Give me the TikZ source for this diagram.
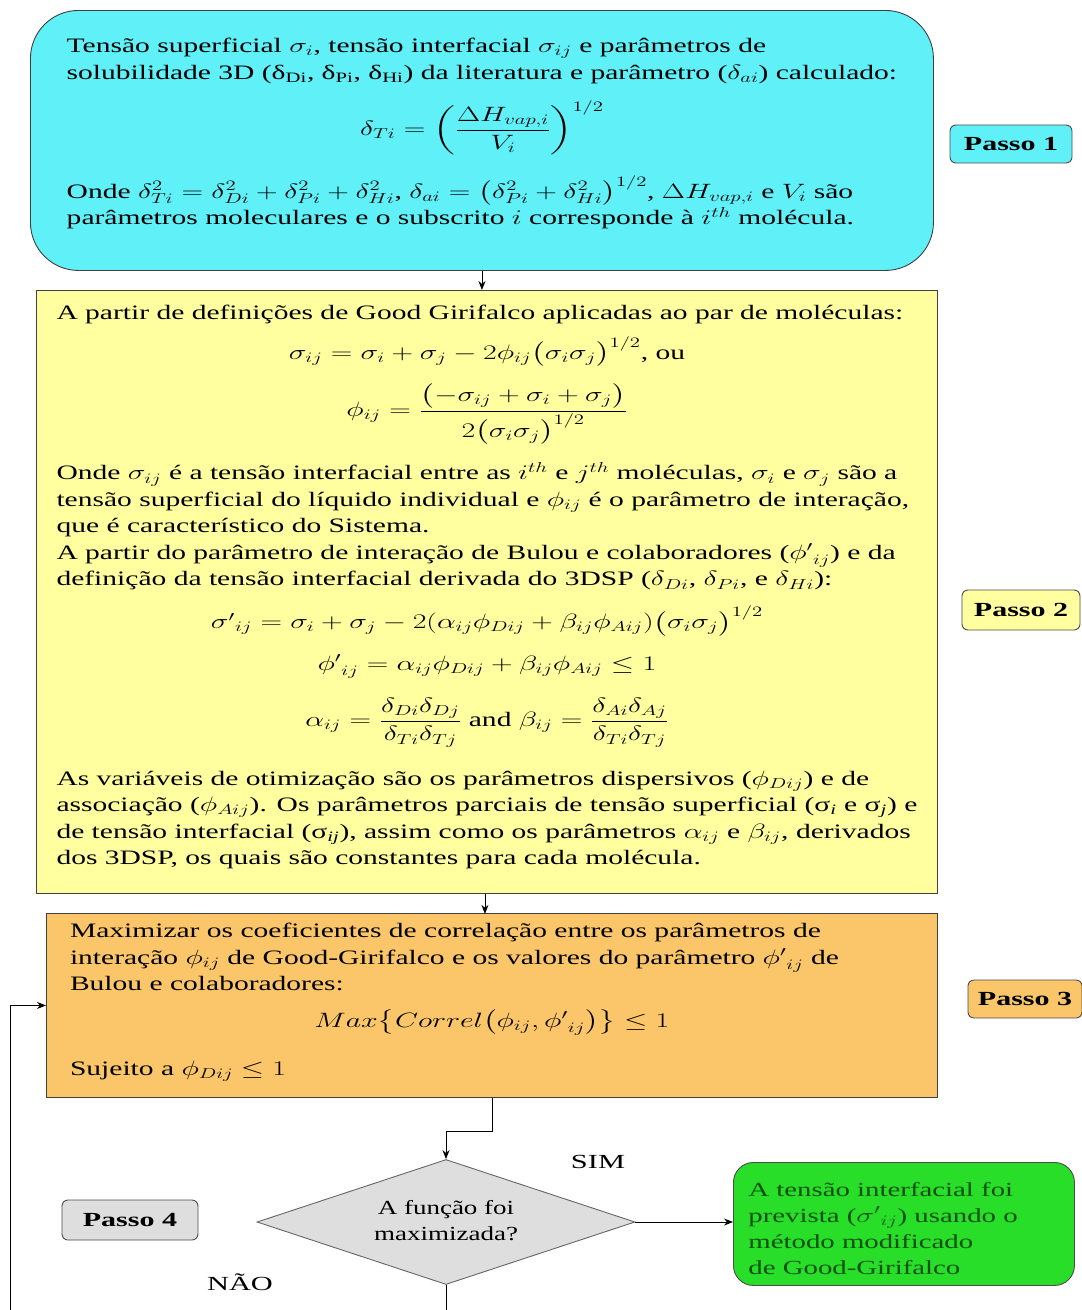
\documentclass[tikz,border=0pt]{standalone}
\usepackage{amsmath,amssymb}
\usepackage{graphicx}
\usepackage{fontspec}
\setmainfont{Liberation Serif}
\usetikzlibrary{shapes.geometric,positioning,arrows.meta}
\definecolor{caixaazul}{RGB}{95,240,248}
\definecolor{caixaamarela}{RGB}{255,255,160}
\definecolor{caixalaranja}{RGB}{250,198,105}
\definecolor{caixaverde}{RGB}{40,222,40}
\definecolor{caixacinza}{RGB}{222,222,222}
\definecolor{textoverde}{RGB}{10,80,10}
\newcommand{\largo}[2][1.44]{\scalebox{#1}[1]{#2}}

\begin{document}
\begin{tikzpicture}[x=1pt,y=-1pt,>={Stealth[length=9pt,width=7pt]},
  caixa/.style={draw=black!75,line width=0.9pt,anchor=north west,inner sep=0pt,
    font=\fontsize{20.5}{26.5}\selectfont},
  passo/.style={draw=black!70,line width=0.9pt,rounded corners=6pt,inner sep=0pt,
    font=\bfseries\fontsize{20}{22}\selectfont},
  rotulo/.style={font=\fontsize{20}{22}\selectfont},
  seta/.style={->,line width=0.8pt}]
\useasboundingbox (0,0) rectangle (1082,1310);
\fill[white] (0,0) rectangle (1082,1310);
\clip (0,0) rectangle (1082,1310);

% passo 1
\node[caixa,fill=caixaazul,rounded corners=48pt,minimum width=903pt,minimum height=260pt]
  (entrada) at (30,10) {\largo{\begin{tabular}{@{}l@{}}
Tensão superficial $\sigma_i$, tensão interfacial $\sigma_{ij}$ e parâmetros de\\
solubilidade 3D (δ\textsubscript{Di}, δ\textsubscript{Pi}, δ\textsubscript{Hi}) da literatura e parâmetro ($\delta_{ai}$) calculado:\\[13pt]
\multicolumn{1}{c}{$\displaystyle\delta_{Ti}=\left(\frac{\Delta H_{vap,i}}{V_i}\right)^{1/2}$}\\[32pt]
Onde $\delta_{Ti}^2=\delta_{Di}^2+\delta_{Pi}^2+\delta_{Hi}^2$, $\delta_{ai}=\bigl(\delta_{Pi}^2+\delta_{Hi}^2\bigr)^{1/2}$, $\Delta H_{vap,i}$ e $V_i$ são\\
parâmetros moleculares e o subscrito $i$ corresponde à $i^{th}$ molécula.\\[14pt]
\end{tabular}}};

% passo 2
\node[caixa,fill=caixaamarela,minimum width=901pt,minimum height=603pt]
  (definicoes) at (36,290) {\largo{\begin{tabular}{@{}l@{}}
A partir de definições de Good Girifalco aplicadas ao par de moléculas:\\[9pt]
\multicolumn{1}{c}{$\sigma_{ij}=\sigma_i+\sigma_j-2\phi_{ij}\bigl(\sigma_i\sigma_j\bigr)^{1/2}$, ou}\\[16pt]
\multicolumn{1}{c}{$\displaystyle\phi_{ij}=\frac{\bigl(-\sigma_{ij}+\sigma_i+\sigma_j\bigr)}{2\bigl(\sigma_i\sigma_j\bigr)^{1/2}}$}\\[37pt]
Onde $\sigma_{ij}$ é a tensão interfacial entre as $i^{th}$ e $j^{th}$ moléculas, $\sigma_i$ e $\sigma_j$ são a\\
tensão superficial do líquido individual e $\phi_{ij}$ é o parâmetro de interação,\\
que é característico do Sistema.\\
A partir do parâmetro de interação de Bulou e colaboradores (${\phi'}_{ij}$) e da\\
definição da tensão interfacial derivada do 3DSP ($\delta_{Di}$, $\delta_{Pi}$, e $\delta_{Hi}$):\\[12pt]
\multicolumn{1}{c}{${\sigma'}_{ij}=\sigma_i+\sigma_j-2(\alpha_{ij}\phi_{Dij}+\beta_{ij}\phi_{Aij})\bigl(\sigma_i\sigma_j\bigr)^{1/2}$}\\[15pt]
\multicolumn{1}{c}{${\phi'}_{ij}=\alpha_{ij}\phi_{Dij}+\beta_{ij}\phi_{Aij}\leq 1$}\\[20pt]
\multicolumn{1}{c}{$\displaystyle\alpha_{ij}=\frac{\delta_{Di}\delta_{Dj}}{\delta_{Ti}\delta_{Tj}}$ and $\displaystyle\beta_{ij}=\frac{\delta_{Ai}\delta_{Aj}}{\delta_{Ti}\delta_{Tj}}$}\\[32pt]
As variáveis de otimização são os parâmetros dispersivos ($\phi_{Dij}$) e de\\
associação ($\phi_{Aij}$). Os parâmetros parciais de tensão superficial (σ\textsubscript{\itshape i} e σ\textsubscript{\itshape j}) e\\
de tensão interfacial (σ\textsubscript{\itshape ij}), assim como os parâmetros $\alpha_{ij}$ e $\beta_{ij}$, derivados\\
dos 3DSP, os quais são constantes para cada molécula.\\[10pt]
\end{tabular}}};

% passo 3
\node[caixa,fill=caixalaranja,minimum width=891pt,minimum height=184pt]
  (otimizacao) at (46,913) {\largo{\begin{tabular}{@{}l@{}}
Maximizar os coeficientes de correlação entre os parâmetros de\\
interação $\phi_{ij}$ de Good-Girifalco e os valores do parâmetro ${\phi'}_{ij}$ de\\
Bulou e colaboradores:\\[10pt]
\multicolumn{1}{c}{$Max\bigl\{Correl\bigl(\phi_{ij},{\phi'}_{ij}\bigr)\bigr\}\leq 1$}\\[22pt]
\makebox[586pt][l]{Sujeito a $\phi_{Dij}$ $\leq 1$}\\[8pt]
\end{tabular}}};

% passo 4
\node[diamond,aspect=3,draw=black!60,line width=0.9pt,fill=caixacinza,minimum width=378pt,
  minimum height=125pt,inner sep=0pt,font=\fontsize{20}{26}\selectfont]
  (decisao) at (446,1222) {\largo[1.35]{\begin{tabular}{@{}c@{}}A função foi\\maximizada?\end{tabular}}};
\node[caixa,draw=black!70,fill=caixaverde,rounded corners=20pt,minimum width=341pt,
  minimum height=123pt,text=textoverde,font=\fontsize{20}{26}\selectfont]
  (resultado) at (733,1162) {\largo{\begin{tabular}{@{}l@{}}
\rule{0pt}{30pt}A tensão interfacial foi\\
prevista (${\sigma'}_{ij}$) usando o\\
método modificado\\
\makebox[216pt][l]{de Good-Girifalco}
\end{tabular}}};

\node[rotulo] (sim) at (598,1162) {\largo[1.52]{SIM}};
\node[rotulo] (nao) at (240,1282) {\largo[1.52]{NÃO}};

% etiquetas
\node[passo,fill=caixaazul,minimum width=122pt,minimum height=38pt] (passoa) at (1011,144) {\largo[1.5]{Passo 1}};
\node[passo,fill=caixaamarela,minimum width=118pt,minimum height=40pt] (passob) at (1021,610) {\largo[1.5]{Passo 2}};
\node[passo,fill=caixalaranja,minimum width=114pt,minimum height=38pt] (passoc) at (1025,999) {\largo[1.5]{Passo 3}};
\node[passo,fill=caixacinza,minimum width=136pt,minimum height=40pt] (passod) at (130,1220) {\largo[1.5]{Passo 4}};

% ligacoes
\coordinate (retorno) at (10,1340);
\draw[seta] (entrada.south) -- (entrada.south |- definicoes.north);
\draw[seta] (definicoes.south) ++(-2,0) -- ++(0,20);
\draw[seta] (otimizacao.south) -- ++(0,33) -| (decisao.north);
\draw[seta] (decisao.east) -- (decisao.east -| resultado.west);
\draw[seta] (decisao.south) |- (retorno) |- (otimizacao.west);
\end{tikzpicture}
\end{document}
